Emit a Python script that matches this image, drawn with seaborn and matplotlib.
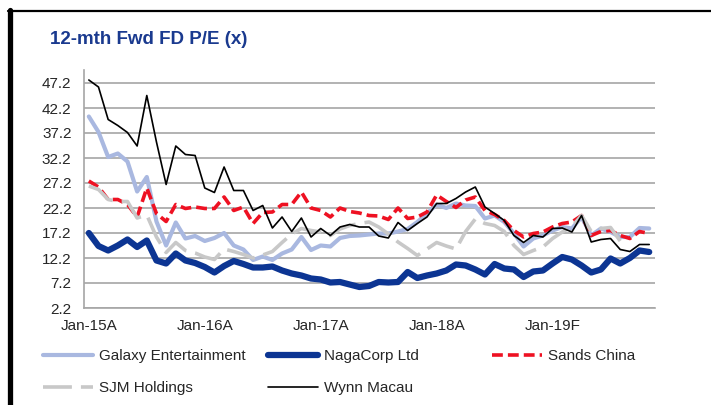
import pandas as pd
import matplotlib.pyplot as plt
import seaborn as sns
from matplotlib.lines import Line2D

# monthly points, Jan-15 .. Nov-19
galaxy = [40.5, 37.4, 32.4, 33.1, 31.5, 25.5, 28.4, 19.5, 14.7, 19.3, 16.1, 16.6,
          15.6, 16.2, 17.2, 14.7, 13.9, 11.8, 12.5, 11.8, 13.1, 13.9, 16.4, 13.8,
          14.7, 14.5, 16.2, 16.6, 16.7, 16.9, 17.1, 17.1, 17.5, 18.0, 19.4, 21.1,
          22.9, 22.2, 23.1, 22.7, 22.6, 20.1, 20.7, 19.4, 17.1, 14.5, 16.1, 16.7,
          17.7, 18.4, 18.1, 20.4, 16.7, 18.1, 17.4, 16.4, 16.4, 18.2, 18.1]
nagacorp = [17.2, 14.6, 13.7, 14.7, 15.9, 14.4, 15.7, 11.7, 11.1, 13.1, 11.7, 11.2,
            10.4, 9.3, 10.6, 11.6, 11.0, 10.3, 10.3, 10.5, 9.7, 9.1, 8.7, 8.1,
            7.9, 7.3, 7.4, 6.9, 6.4, 6.6, 7.4, 7.3, 7.4, 9.4, 8.2, 8.7,
            9.1, 9.7, 10.9, 10.7, 9.9, 8.9, 11.0, 10.1, 9.9, 8.4, 9.5, 9.7,
            11.1, 12.4, 11.9, 10.7, 9.3, 9.9, 12.1, 11.1, 12.2, 13.7, 13.4]
sands = [27.6, 26.4, 23.9, 23.9, 22.9, 20.4, 26.2, 21.1, 19.5, 22.9, 22.1, 22.4,
         22.1, 22.1, 24.4, 21.7, 22.4, 19.1, 21.3, 21.4, 22.9, 22.9, 25.4, 22.2,
         21.7, 20.4, 22.2, 21.5, 21.2, 20.7, 20.6, 19.9, 22.2, 20.1, 20.4, 21.4,
         24.8, 23.5, 22.3, 23.8, 24.4, 21.7, 20.9, 19.7, 17.7, 16.4, 17.1, 17.4,
         18.4, 19.1, 19.4, 20.7, 16.7, 17.5, 17.7, 16.7, 16.1, 17.5, 17.1]
sjm = [26.6, 25.9, 23.9, 23.5, 23.5, 20.2, 20.8, 16.4, 13.3, 15.3, 13.7, 13.2,
       12.4, 11.9, 14.0, 13.5, 12.9, 12.2, 12.8, 13.5, 15.3, 17.0, 18.1, 17.7,
       17.4, 16.7, 18.0, 18.7, 19.1, 19.4, 18.4, 17.0, 15.4, 14.1, 12.7, 14.0,
       15.3, 14.6, 14.0, 17.5, 20.0, 19.1, 18.7, 17.5, 14.7, 12.9, 13.7, 14.4,
       16.1, 17.4, 18.5, 20.7, 17.5, 18.1, 18.3, 15.6]
wynn = [47.8, 46.4, 39.9, 38.7, 37.3, 34.6, 44.7, 35.4, 26.9, 34.6, 32.9, 32.7,
        26.2, 25.3, 30.4, 25.7, 25.7, 21.7, 22.7, 18.2, 20.4, 17.5, 20.2, 16.4,
        18.1, 16.7, 18.4, 18.9, 18.4, 18.4, 16.6, 16.2, 19.3, 17.7, 19.1, 20.4,
        23.1, 23.1, 24.1, 25.4, 26.4, 22.4, 21.1, 19.7, 16.7, 15.3, 16.7, 16.4,
        18.1, 18.2, 17.4, 20.7, 15.4, 15.9, 16.1, 13.9, 13.5, 14.9, 14.9]

names = ['Galaxy Entertainment', 'NagaCorp Ltd', 'Sands China', 'SJM Holdings', 'Wynn Macau']
year_labels = ['Jan-15A', 'Jan-16A', 'Jan-17A', 'Jan-18A', 'Jan-19F']
y_ticks = [2.2, 7.2, 12.2, 17.2, 22.2, 27.2, 32.2, 37.2, 42.2, 47.2]

frames = []
for name, vals in zip(names, [galaxy, nagacorp, sands, sjm, wynn]):
    frames.append(pd.DataFrame({'month': range(len(vals)), 'pe': vals, 'name': name}))
df = pd.concat(frames, ignore_index=True)

styles = {
    'Galaxy Entertainment': dict(color='#a9b8e0', lw=3.0, ls='-'),
    'NagaCorp Ltd': dict(color='#0c3593', lw=4.5, ls='-'),
    'Sands China': dict(color='#ee1122', lw=2.6, ls=(0, (3, 1.4))),
    'SJM Holdings': dict(color='#c8c8c8', lw=2.6, ls=(0, (8, 2.5))),
    'Wynn Macau': dict(color='black', lw=1.2, ls='-'),
}

sns.set_style('white')
plt.rcParams['font.family'] = ['Liberation Sans', 'DejaVu Sans']

fig = plt.figure(figsize=(7.11, 4.05), dpi=100)
ax = fig.add_axes([84 / 711, 97 / 405, 571 / 711, 238 / 405])

handles = {}
for z, name in enumerate(names):
    st = styles[name]
    sns.lineplot(data=df[df['name'] == name], x='month', y='pe', ax=ax,
                 color=st['color'], linewidth=st['lw'], linestyle=st['ls'],
                 legend=False, zorder=3 + z)
    handles[name] = Line2D([], [], color=st['color'], lw=st['lw'], ls=st['ls'])

ax.set_xlim(-0.45, 58.6)
ax.set_ylim(2.2, 49.8)
ax.set_yticks(y_ticks)
ax.set_yticklabels([f'{t:.1f}' for t in y_ticks], fontsize=11)
ax.yaxis.grid(True, color='#a6a6a6', lw=1.2)
ax.set_axisbelow(True)

ax.set_xticks([-0.5 + 12 * k for k in range(5)])
ax.set_xticklabels([])
ax.set_xticks([12 * k for k in range(5)], minor=True)
ax.set_xticklabels(year_labels, minor=True, fontsize=11)
ax.tick_params(axis='x', which='major', length=4, width=1, color='#a6a6a6', direction='out')
ax.tick_params(axis='x', which='minor', length=0, pad=8)
ax.tick_params(axis='y', length=0, pad=9)
ax.set_xlabel('')
ax.set_ylabel('')

for s in ['top', 'right']:
    ax.spines[s].set_visible(False)
for s in ['left', 'bottom']:
    ax.spines[s].set_color('#a6a6a6')
    ax.spines[s].set_linewidth(1.2)

fig.text(50 / 711, 1 - 40 / 405, '12-mth Fwd FD P/E (x)', fontsize=13.5, fontweight='bold',
         color='#1a3a8f', va='center', ha='left')

# black frame on top and left
fig.add_artist(Line2D([8 / 711, 1], [1 - 11 / 405, 1 - 11 / 405], color='black', lw=1.6,
                      transform=fig.transFigure))
fig.add_artist(Line2D([9.5 / 711, 9.5 / 711], [0, 1 - 10 / 405], color='black', lw=3.8,
                      transform=fig.transFigure))

# legend in three columns
cols = [(43, ['Galaxy Entertainment', 'SJM Holdings']),
        (268, ['NagaCorp Ltd', 'Wynn Macau']),
        (492, ['Sands China'])]
for x0, group in cols:
    leg = fig.legend([handles[n] for n in group], group, loc='upper left',
                     bbox_to_anchor=(x0 / 711, 1 - 349 / 405), frameon=False,
                     fontsize=11, handlelength=3.3, handletextpad=0.35,
                     borderpad=0, borderaxespad=0, labelspacing=1.2)

plt.savefig('out.png', dpi=100)
